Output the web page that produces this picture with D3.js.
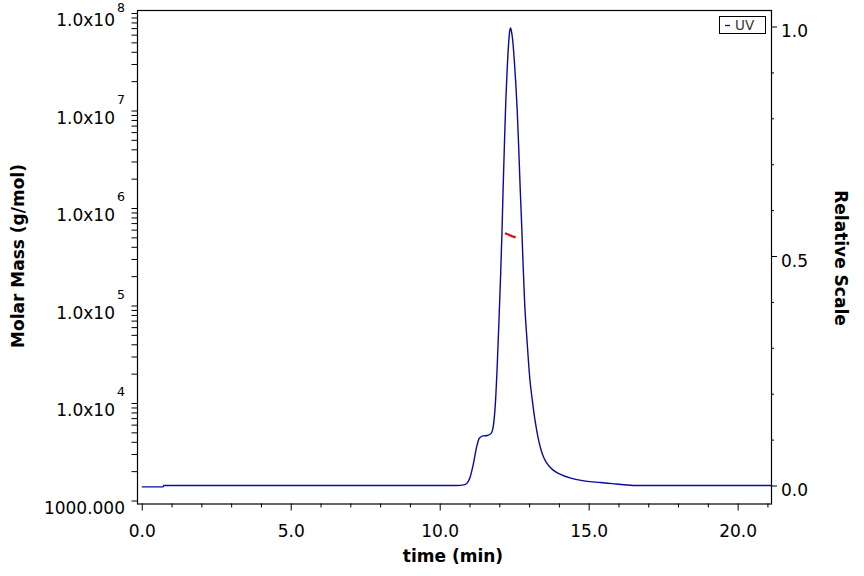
<!DOCTYPE html>
<html>
<head>
<meta charset="utf-8">
<script src="https://cdn.jsdelivr.net/npm/d3@7"></script>
<style>
  body { margin: 0; background: #fff; }
  svg { display: block; font-family: "DejaVu Sans", sans-serif; }
</style>
</head>
<body>
<div id="chart"></div>
<script>
// UV trace (relative scale)
const uvTime = [0, 0.71, 0.74, 10.55, 10.85, 10.95, 11.02, 11.13, 11.24, 11.33, 11.45, 11.6, 11.72, 11.8,
  11.87, 11.93, 11.99, 12.04, 12.09, 12.13, 12.18, 12.22, 12.26, 12.31, 12.35, 12.38, 12.42, 12.45,
  12.5, 12.55, 12.6, 12.65, 12.7, 12.75, 12.8, 12.85, 12.93, 13.03, 13.1, 13.2, 13.3, 13.4, 13.5,
  13.6, 13.8, 14.0, 14.4, 14.9, 15.4, 15.8, 16.2, 16.5, 21.12];
const uvSignal = [-0.003, -0.003, 0.0, 0.0, 0.002, 0.008, 0.018, 0.047, 0.084, 0.103, 0.108, 0.109, 0.113, 0.13,
  0.18, 0.26, 0.36, 0.45, 0.55, 0.65, 0.76, 0.84, 0.90, 0.96, 0.99, 0.997, 0.985, 0.97,
  0.93, 0.88, 0.82, 0.74, 0.65, 0.57, 0.48, 0.40, 0.317, 0.229, 0.19, 0.142, 0.105, 0.078, 0.06,
  0.048, 0.034, 0.026, 0.016, 0.0095, 0.0065, 0.004, 0.0015, 0.0, 0.0];

// molar mass points (g/mol)
const massTime = [12.19, 12.30, 12.42, 12.55];
const massValue = [5.5e5, 5.35e5, 5.15e5, 5.0e5];

// axis ticks
const xMajor = [0, 5, 10, 15, 20];
const xMinor = d3.range(0, 22, 1).filter(d => d % 5 !== 0);
const massExponents = [3, 4, 5, 6, 7, 8];
const relMajor = [0, 0.5, 1.0];
const relMinor = [0.1, 0.2, 0.3, 0.4, 0.6, 0.7, 0.8, 0.9];

let svgWidth = 864;
let svgHeight = 576;

let plot = { left: 137, right: 771, top: 10, bottom: 503.5 };

let svg = d3.select('#chart').append('svg')
  .attr('width', svgWidth)
  .attr('height', svgHeight);

// scales
let x = d3.scaleLinear().domain([-0.16, 21.12]).range([plot.left, plot.right]);
let yMass = d3.scaleLog().domain([1000, 1e8]).range([500.5, 13]);
let yRel = d3.scaleLinear().domain([0, 1]).range([485.5, 26.5]);

// log minor ticks
let massTicks = [];
massExponents.forEach(e => {
  massTicks.push(Math.pow(10, e));
  if (e < 8) {
    for (let m = 2; m <= 9; m++) massTicks.push(m * Math.pow(10, e));
  }
});

// bottom axis
svg.append('g')
  .attr('transform', `translate(0, ${plot.bottom})`)
  .call(d3.axisBottom(x).tickValues(xMajor).tickSize(7).tickFormat(d3.format('.1f')))
  .call(g => g.select('.domain').remove())
  .call(g => g.selectAll('text').attr('dy', null).attr('y', 33.5)
    .attr('font-size', 17).attr('font-family', 'DejaVu Sans').attr('fill', '#000'));

svg.append('g')
  .attr('transform', `translate(0, ${plot.bottom})`)
  .call(d3.axisBottom(x).tickValues(xMinor).tickSize(4).tickFormat(''))
  .call(g => g.select('.domain').remove());

// left axis
svg.append('g')
  .attr('transform', `translate(${plot.left}, 0)`)
  .call(d3.axisLeft(yMass).tickValues(massTicks).tickSize(5.5).tickFormat(''))
  .call(g => g.select('.domain').remove());

let massLabels = svg.append('g');
massExponents.forEach(e => {
  let ty = yMass(Math.pow(10, e));
  if (e === 3) {
    massLabels.append('text')
      .attr('x', 125).attr('y', ty + 13)
      .attr('text-anchor', 'end')
      .attr('font-size', 17)
      .text('1000.000');
  } else {
    massLabels.append('text')
      .attr('x', 115).attr('y', ty + 13)
      .attr('text-anchor', 'end')
      .attr('font-size', 17)
      .text('1.0x10');
    massLabels.append('text')
      .attr('x', 117).attr('y', Math.max(ty - 7, 12))
      .attr('font-size', 12.5)
      .text(e);
  }
});

// right axis
svg.append('g')
  .attr('transform', `translate(${plot.right}, 0)`)
  .call(d3.axisRight(yRel).tickValues(relMajor).tickSize(6).tickFormat(d3.format('.1f')))
  .call(g => g.select('.domain').remove())
  .call(g => g.selectAll('text').attr('dy', null).attr('x', 10).attr('y', 10)
    .attr('font-size', 17).attr('font-family', 'DejaVu Sans').attr('fill', '#000'));

svg.append('g')
  .attr('transform', `translate(${plot.right}, 0)`)
  .call(d3.axisRight(yRel).tickValues(relMinor).tickSize(3).tickFormat(''))
  .call(g => g.select('.domain').remove());

// frame
svg.append('rect')
  .attr('x', plot.left + 0.5)
  .attr('y', plot.top + 0.5)
  .attr('width', plot.right - plot.left)
  .attr('height', plot.bottom - plot.top)
  .attr('fill', 'none')
  .attr('stroke', '#000')
  .attr('stroke-width', 1.2);

// UV trace
let uvData = uvTime.map((t, i) => ({ t: t, v: uvSignal[i] }));
svg.append('path')
  .datum(uvData)
  .attr('fill', 'none')
  .attr('stroke', '#0a0a9c')
  .attr('stroke-width', 1.4)
  .attr('d', d3.line().curve(d3.curveMonotoneX).x(d => x(d.t)).y(d => yRel(d.v)));

// molar mass
let massData = massTime.map((t, i) => ({ t: t, m: massValue[i] }));
svg.append('path')
  .datum(massData)
  .attr('fill', 'none')
  .attr('stroke', '#e01010')
  .attr('stroke-width', 2.2)
  .attr('d', d3.line().x(d => x(d.t)).y(d => yMass(d.m)));

// legend
let legend = svg.append('g');
legend.append('rect')
  .attr('x', 719.5).attr('y', 16.5)
  .attr('width', 46).attr('height', 17)
  .attr('fill', '#fff')
  .attr('stroke', '#000');
legend.append('line')
  .attr('x1', 725).attr('x2', 730)
  .attr('y1', 25.5).attr('y2', 25.5)
  .attr('stroke', '#0a0a9c')
  .attr('stroke-width', 1.3);
legend.append('text')
  .attr('x', 735).attr('y', 30)
  .attr('font-size', 13.5)
  .attr('fill', '#333')
  .text('UV');

// axis titles
svg.append('text')
  .attr('x', 453).attr('y', 562)
  .attr('text-anchor', 'middle')
  .attr('font-size', 17)
  .attr('font-weight', 'bold')
  .text('time (min)');

svg.append('text')
  .attr('transform', 'translate(24, 256) rotate(-90)')
  .attr('text-anchor', 'middle')
  .attr('font-size', 17)
  .attr('font-weight', 'bold')
  .text('Molar Mass (g/mol)');

svg.append('text')
  .attr('transform', 'translate(835, 258) rotate(90)')
  .attr('text-anchor', 'middle')
  .attr('font-size', 17)
  .attr('font-weight', 'bold')
  .text('Relative Scale');
</script>
</body>
</html>
